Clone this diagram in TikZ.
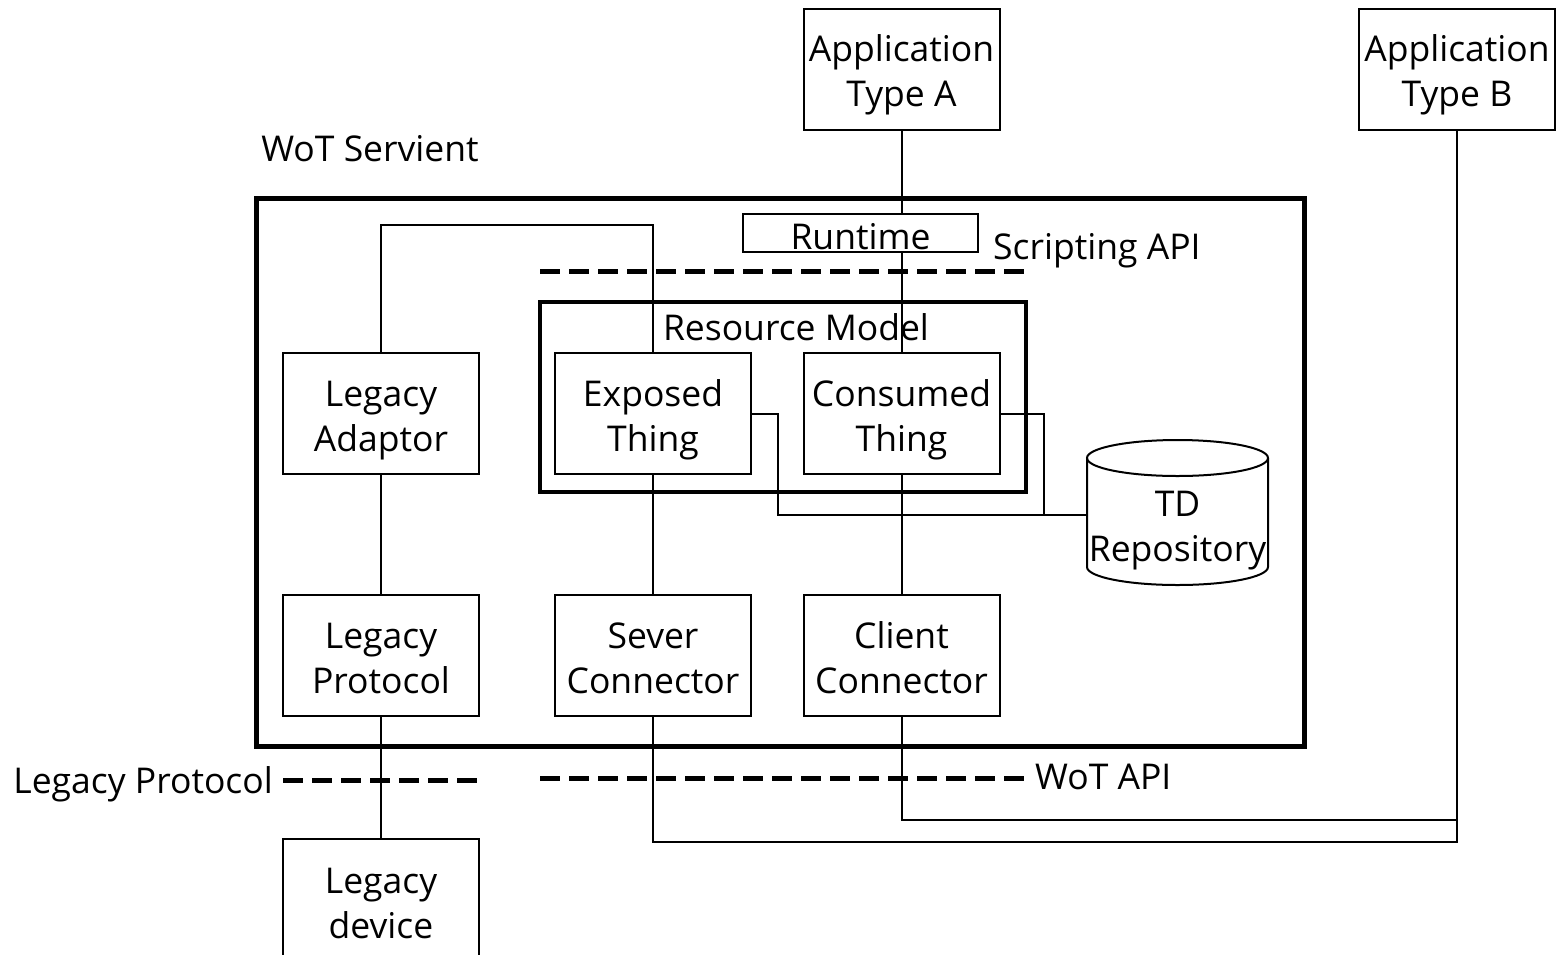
\documentclass[tikz,border=0pt]{standalone}
\usepackage{fontspec}
\setmainfont{Open Sans}
\begin{document}
\begin{tikzpicture}[x=1pt,y=-1pt,
  every node/.style={font=\fontsize{35.5}{45}\selectfont,align=center,inner sep=0pt},
  twoline/.style={text height=75pt,text depth=0pt},
  box/.style={draw,line width=2pt,minimum width=196pt,minimum height=121pt,twoline},
  wire/.style={line width=2pt},
  api/.style={line width=5pt,dash pattern=on 20pt off 9pt}]
\useasboundingbox (0,0) rectangle (1556,954);

% applications
\node[box] (appA) at (901.5,69) {Application\\Type A};
\node[box] (appB) at (1457,69) {Application\\Type B};

% servient frame
\node (servlbl) at (370,149) {WoT Servient};
\node[draw,line width=5pt,minimum width=1048pt,minimum height=548pt] (servient) at (780,472) {};

% runtime and scripting API
\node[draw,line width=2pt,minimum width=235pt,minimum height=38pt,text height=33pt,text depth=0pt] (rt) at (860.5,233) {Runtime};
\node[anchor=west] (scriptlbl) at (993,251) {Scripting API};
\draw[api] (540,271) -- (1025,271);

% resource model
\node[draw,line width=4pt,minimum width=486pt,minimum height=190pt] (rm) at (783,397) {};
\node (rmlbl) at (796,327) {Resource Model};

% building blocks
\node[box] (la) at (381,413.5) {Legacy\\Adaptor};
\node[box] (et) at (653,413.5) {Exposed\\Thing};
\node[box] (ct) at (901.5,413.5) {Consumed\\Thing};
\node[box] (lp) at (381,655.5) {Legacy\\Protocol};
\node[box] (sc) at (653,655.5) {Sever\\Connector};
\node[box] (cc) at (901.5,655.5) {Client\\Connector};
\node[box,minimum height=124pt,anchor=north] (ld) at (381,838) {Legacy\\device};

% TD repository cylinder
\draw[line width=2pt] (1087,458) -- (1087,567) arc[start angle=180,end angle=0,x radius=90.5,y radius=18]
  -- (1268,458);
\draw[line width=2pt] (1177.5,458) ellipse[x radius=90.5,y radius=18];
\node[twoline] (td) at (1177.5,524) {TD\\Repository};
\coordinate (tdw) at (1087,515);

% API lines
\node[anchor=east] (lplbl) at (273,784) {Legacy Protocol};
\draw[api] (283,780) -- (479,780);
\node[anchor=west] (wotlbl) at (1035,777) {WoT API};
\draw[api] (540,778) -- (1025,778);

% connections
\coordinate (j1) at (778,515);
\coordinate (j2) at (1044,515);
\coordinate (k1) at (1457,820);
\coordinate (k2) at (1457,842);
\draw[wire] (appA.south) -- (appA.south |- rt.north);
\draw[wire] (appA.south |- rt.south) -- (ct.north);
\draw[wire] (la.north) -- ++(0,-127) -| (et.north);
\draw[wire] (et.east) -| (j1) -- (tdw);
\draw[wire] (ct.east) -| (j2);
\draw[wire] (la) -- (lp);
\draw[wire] (lp) -- (ld);
\draw[wire] (et) -- (sc);
\draw[wire] (ct) -- (cc);
\draw[wire] (cc.south) |- (k1) -- (appB.south);
\draw[wire] (sc.south) |- (k2) -- (k1);
\end{tikzpicture}
\end{document}
